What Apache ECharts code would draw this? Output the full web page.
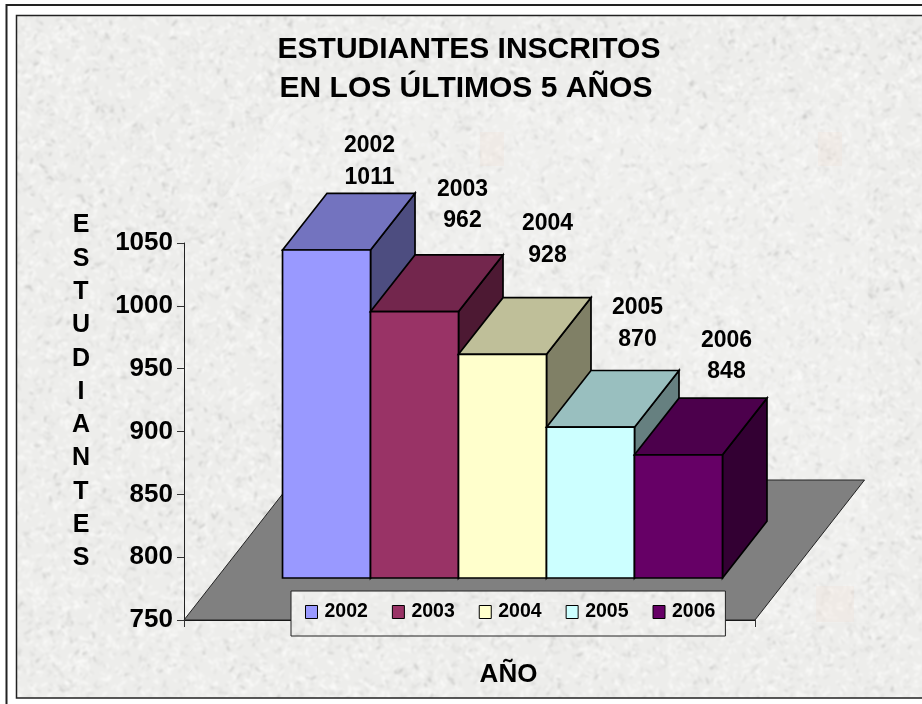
<!DOCTYPE html>
<html>
<head>
<meta charset="utf-8">
<title>Estudiantes inscritos</title>
<script src="https://cdn.jsdelivr.net/npm/echarts@6/dist/echarts.min.js"></script>
<style>
  html, body { margin: 0; padding: 0; background: #fff; }
  #chart { width: 922px; height: 704px; }
</style>
</head>
<body>
<div id="chart"></div>
<script>
var years = ['2002', '2003', '2004', '2005', '2006'];
var students = [1011, 962, 928, 870, 848];
var yMin = 750;
var yMax = 1050;
var yStep = 50;
var titleLines = ['ESTUDIANTES INSCRITOS', 'EN LOS ÚLTIMOS 5 AÑOS'];
var yAxisTitle = 'E\nS\nT\nU\nD\nI\nA\nN\nT\nE\nS';
var xAxisTitle = 'AÑO';

var frontColors = ['#9999ff', '#993366', '#ffffcc', '#ccffff', '#660066'];
var topColors = ['#7373bf', '#73264d', '#bfbf99', '#99bfbf', '#4c004c'];
var sideColors = ['#4d4d80', '#4d1933', '#808066', '#668080', '#330033'];

// the labels were moved by hand in the original, so each has its own nudge
var labelNudge = [[43, -57], [48, -75], [45, -83], [47, -72], [48, -67]];

var fontName = '"Liberation Sans", Arial, sans-serif';

// 3d look: floor depth and where the bars sit on it
var floorDepth = [109.5, -140];
var barFront = [33, -42];
var barDepth = [44.5, -56.7];
var barShare = 0.1541;

function makeTexture() {
	var raw = document.createElement('canvas');
	raw.width = 922;
	raw.height = 704;
	var g = raw.getContext('2d');
	var seed = 12345;
	function next() {
		seed = (seed * 16807) % 2147483647;
		return seed / 2147483647;
	}
	g.fillStyle = '#ededeb';
	g.fillRect(0, 0, 922, 704);
	g.lineCap = 'round';
	for (var i = 0; i < 22000; i++) {
		var x = next() * 922;
		var y = next() * 704;
		var a = next() * Math.PI * 2;
		var len = 2 + next() * 4;
		var pick = next();
		g.strokeStyle = pick < 0.6 ? 'rgba(253,253,251,0.8)' : (pick < 0.95 ? 'rgba(210,210,208,0.5)' : 'rgba(165,165,163,0.5)');
		g.lineWidth = 1 + next();
		g.beginPath();
		g.moveTo(x, y);
		g.lineTo(x + Math.cos(a) * len, y + Math.sin(a) * len);
		g.stroke();
	}
	// soften it once, all in one pass
	var c = document.createElement('canvas');
	c.width = 922;
	c.height = 704;
	var g2 = c.getContext('2d');
	g2.fillStyle = '#ededeb';
	g2.fillRect(0, 0, 922, 704);
	g2.filter = 'blur(0.8px)';
	g2.drawImage(raw, 0, 0);
	return c;
}

var texture = makeTexture();
var texturePattern = { image: texture, repeat: 'repeat' };

function poly(points, fill, z2) {
	return {
		type: 'polygon',
		z2: z2,
		shape: { points: points },
		style: { fill: fill, stroke: '#000', lineWidth: 1.7, lineJoin: 'miter' }
	};
}

function renderFloor(params, api) {
	var mid = api.coord([0, yMin]);
	var half = api.size([1, 0])[0] / 2;
	var a = [mid[0] - half, mid[1]];
	var b = [mid[0] + half, mid[1]];
	return {
		type: 'polygon',
		shape: { points: [
			a, b,
			[b[0] + floorDepth[0], b[1] + floorDepth[1]],
			[a[0] + floorDepth[0], a[1] + floorDepth[1]]
		] },
		style: { fill: '#808080', stroke: '#222', lineWidth: 1 }
	};
}

function renderBar(i) {
	return function (params, api) {
		var band = api.size([1, 0])[0];
		var w = band * barShare;
		var top = api.coord([0, api.value(1)]);
		var base = api.coord([0, yMin]);
		var x0 = top[0] + barFront[0] + (i - years.length / 2) * w;
		var x1 = x0 + w;
		var yt = top[1] + barFront[1];
		var yb = base[1] + barFront[1];
		var dx = barDepth[0];
		var dy = barDepth[1];
		return {
			type: 'group',
			children: [
				poly([[x1, yt], [x1 + dx, yt + dy], [x1 + dx, yb + dy], [x1, yb]], sideColors[i], 1),
				poly([[x0, yt], [x0 + dx, yt + dy], [x1 + dx, yt + dy], [x1, yt]], topColors[i], 2),
				poly([[x0, yt], [x1, yt], [x1, yb], [x0, yb]], frontColors[i], 3),
				{
					type: 'text',
					z2: 4,
					x: (x0 + x1) / 2 + labelNudge[i][0],
					y: yt + labelNudge[i][1],
					style: {
						text: years[i] + '\n' + api.value(1),
						font: 'bold 23px ' + fontName,
						lineHeight: 31.5,
						fill: '#000',
						align: 'center',
						verticalAlign: 'bottom'
					}
				}
			]
		};
	};
}

var seriesList = [{
	type: 'custom',
	name: 'floor',
	silent: true,
	z: 1,
	clip: false,
	renderItem: renderFloor,
	data: [[0, yMin]]
}];
years.forEach(function (year, i) {
	seriesList.push({
		type: 'custom',
		name: year,
		silent: true,
		z: 2 + i,
		clip: false,
		itemStyle: { color: frontColors[i] },
		renderItem: renderBar(i),
		encode: { x: 0, y: 1 },
		data: [[0, students[i]]]
	});
});

var chart = echarts.init(document.getElementById('chart'));
chart.setOption({
	animation: false,
	backgroundColor: '#fff',
	title: [{
		text: titleLines[0],
		left: 469, top: 35, textAlign: 'center',
		textStyle: { fontFamily: fontName, fontWeight: 'bold', fontSize: 30, color: '#000' },
		padding: 0
	}, {
		text: titleLines[1],
		left: 466, top: 74, textAlign: 'center',
		textStyle: { fontFamily: fontName, fontWeight: 'bold', fontSize: 30, color: '#000' },
		padding: 0
	}],
	grid: { left: 184, top: 243, width: 571, height: 377, containLabel: false },
	xAxis: {
		type: 'category',
		data: [''],
		name: xAxisTitle,
		nameLocation: 'middle',
		nameGap: 42,
		nameTextStyle: { fontFamily: fontName, fontWeight: 'bold', fontSize: 26, color: '#000', padding: [0, 0, 0, 78] },
		axisLine: { onZero: false, lineStyle: { color: '#111', width: 1 } },
		axisTick: { show: true, length: 7, lineStyle: { color: '#333' } },
		axisLabel: { show: false }
	},
	yAxis: {
		type: 'value',
		min: yMin,
		max: yMax,
		interval: yStep,
		axisLine: { show: true, lineStyle: { color: '#222', width: 1 } },
		axisTick: { show: true, length: 7, lineStyle: { color: '#333' } },
		axisLabel: {
			margin: 11, fontFamily: fontName, fontWeight: 'bold', fontSize: 26, color: '#000',
			formatter: function (v) { return String(v); }
		},
		splitLine: { show: false }
	},
	legend: {
		data: years,
		left: 291,
		top: 591,
		orient: 'horizontal',
		padding: [11, 10, 14, 14],
		itemGap: 24,
		itemWidth: 12,
		itemHeight: 13,
		icon: 'rect',
		backgroundColor: texturePattern,
		borderColor: '#222',
		borderWidth: 1,
		borderRadius: 0,
		selectedMode: false,
		itemStyle: { borderColor: '#000', borderWidth: 1 },
		textStyle: { fontFamily: fontName, fontWeight: 'bold', fontSize: 19.5, color: '#000', padding: [0, 0, 0, 2] }
	},
	graphic: [
		// frame and paper texture, behind everything
		{ type: 'rect', z: -10, silent: true, shape: { x: 6.5, y: 5, width: 930, height: 720 }, style: { fill: '#fff', stroke: '#222', lineWidth: 2 } },
		{ type: 'rect', z: -9, silent: true, shape: { x: 16.5, y: 15.5, width: 920, height: 682.5 }, style: { fill: texturePattern, stroke: '#222', lineWidth: 1.5 } },
		// faint lighter patch and marks in the paper
		{ type: 'rect', z: -8, silent: true, shape: { x: 292, y: 102, width: 576, height: 521 }, style: { fill: 'rgba(255,255,255,0.12)' } },
		{ type: 'polygon', z: -8, silent: true, shape: { points: [[292, 102], [292, 175], [222, 200]] }, style: { fill: 'rgba(255,255,255,0.2)' } },
		{ type: 'rect', z: -8, silent: true, shape: { x: 480, y: 132, width: 24, height: 34 }, style: { fill: 'rgba(240,210,195,0.16)' } },
		{ type: 'rect', z: -8, silent: true, shape: { x: 818, y: 132, width: 24, height: 34 }, style: { fill: 'rgba(240,210,195,0.16)' } },
		{ type: 'rect', z: -8, silent: true, shape: { x: 816, y: 586, width: 38, height: 36 }, style: { fill: 'rgba(240,210,195,0.16)' } },
		// y axis title, one letter per line like the original
		{
			type: 'text', z: 5, silent: true, x: 81, y: 392,
			style: { text: yAxisTitle, font: 'bold 25px ' + fontName, lineHeight: 33.3, fill: '#000', align: 'center', verticalAlign: 'middle' }
		}
	],
	series: seriesList
});
</script>
</body>
</html>
